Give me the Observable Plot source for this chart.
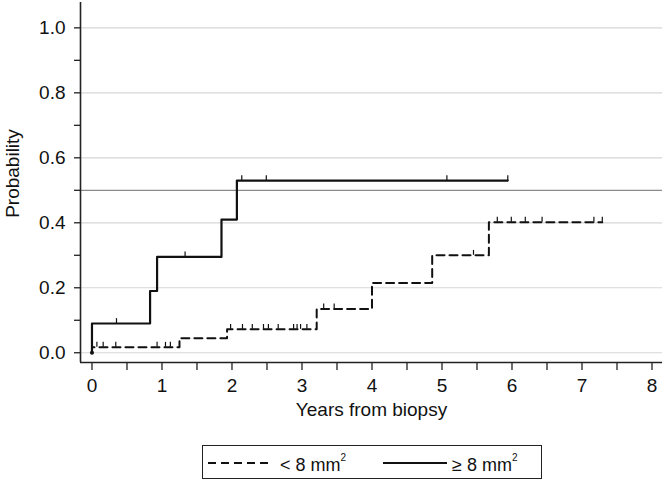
<!DOCTYPE html>
<html>
<head>
<meta charset="utf-8">
<script src="https://cdn.jsdelivr.net/npm/d3@7"></script>
<script src="https://cdn.jsdelivr.net/npm/@observablehq/plot@0.6"></script>
<style>
  html, body { margin: 0; padding: 0; background: #fff; }
  body { width: 664px; font-family: "Liberation Sans", Arial, sans-serif; }
  #legend { position: relative; width: 664px; height: 43px; }
  #legend .box { position: absolute; left: 202px; top: 5px; width: 338px; height: 32px; border: 1.5px solid #222; }
  #legend .lab { position: absolute; top: 11px; font-size: 18px; color: #111; line-height: 20px; white-space: nowrap; }
  #legend sup { font-size: 10px; position: relative; top: -3px; }
</style>
</head>
<body>
<div id="chart"></div>
<div id="legend"></div>
<script>
// ---- data ----
const groups = ["< 8 mm", "≥ 8 mm"];
const smallT = [0, 0, 1.25, 1.93, 3.21, 4.0, 4.86, 5.67, 7.29];
const smallP = [0, 0.017, 0.045, 0.072, 0.135, 0.215, 0.30, 0.402, 0.402];
const largeT = [0, 0, 0.83, 0.93, 1.85, 2.07, 5.94];
const largeP = [0, 0.09, 0.19, 0.295, 0.41, 0.53, 0.53];
const smallCensor = [0.07, 0.16, 0.34, 0.93, 1.05, 1.12, 1.98, 2.15, 2.29, 2.45, 2.52, 2.66, 2.88, 2.93, 2.98, 3.07, 3.31, 3.46, 5.45, 5.79, 5.99, 6.19, 6.43, 7.17, 7.29];
const largeCensor = [0.35, 1.33, 2.14, 2.49, 5.07, 5.94];
const xTicks = [0, 1, 2, 3, 4, 5, 6, 7, 8];
const xMinor = [0.5, 1.5, 2.5, 3.5, 4.5, 5.5, 6.5, 7.5];
const yTicks = [0, 0.2, 0.4, 0.6, 0.8, 1.0];
const yMinor = [0.1, 0.3, 0.5, 0.7, 0.9];
const refLine = [0.5];
const xLabel = "Years from biopsy";
const yLabel = "Probability";

const xDomain = [-0.164, 8.15];
const yDomain = [-0.03, 1.078];

const small = smallT.map((t, i) => ({t, p: smallP[i]}));
const large = largeT.map((t, i) => ({t, p: largeP[i]}));
function stepAt(T, P, t) { let v = P[0]; for (let i = 0; i < T.length; i++) if (T[i] <= t) v = P[i]; return v; }
const censors = [
  ...smallCensor.map(t => ({t, p: stepAt(smallT, smallP, t)})),
  ...largeCensor.map(t => ({t, p: stepAt(largeT, largeP, t)}))
];

const chart = Plot.plot({
  width: 664,
  height: 440,
  marginLeft: 80,
  marginRight: 2,
  marginTop: 2,
  marginBottom: 78,
  style: {fontFamily: "'Liberation Sans', Arial, sans-serif", fontSize: "19px", color: "#111", background: "#fff"},
  x: {domain: xDomain},
  y: {domain: yDomain},
  marks: [
    Plot.ruleY(yTicks, {stroke: "#d6d6d6", strokeWidth: 1.2}),
    Plot.ruleY(refLine, {stroke: "#8a8a8a", strokeWidth: 1.2}),
    Plot.axisY({ticks: yTicks, tickFormat: d3.format(".1f"), tickSize: 6, tickPadding: 9, stroke: "#222", strokeWidth: 1.3, label: null}),
    Plot.axisY({ticks: yMinor, tickFormat: () => "", tickSize: 6, stroke: "#222", strokeWidth: 1.3, label: null}),
    Plot.axisX({ticks: xTicks, tickFormat: d3.format("d"), tickSize: 8, tickPadding: 8, stroke: "#222", strokeWidth: 1.3, label: null}),
    Plot.axisX({ticks: xMinor, tickFormat: () => "", tickSize: 8, stroke: "#222", strokeWidth: 1.3, label: null}),
    Plot.ruleX([xDomain[0]], {stroke: "#222", strokeWidth: 1.6}),
    Plot.ruleY([yDomain[0]], {stroke: "#222", strokeWidth: 1.6}),
    Plot.line(small, {x: "t", y: "p", curve: "step-after", stroke: "#111", strokeWidth: 2, strokeDasharray: "8,5"}),
    Plot.line(large, {x: "t", y: "p", curve: "step-after", stroke: "#111", strokeWidth: 2.2}),
    Plot.ruleX(censors, {x: "t", y1: "p", y2: d => d.p + 0.015, stroke: "#111", strokeWidth: 1.2}),
    Plot.dot([large[0]], {x: "t", y: "p", r: 2, fill: "#111"}),
    Plot.text([xLabel], {frameAnchor: "bottom", dy: 53, fontSize: 19, fill: "#111"}),
    Plot.text([yLabel], {frameAnchor: "left", textAnchor: "middle", dx: -68, dy: -9, rotate: -90, fontSize: 19, fill: "#111"})
  ]
});
document.getElementById("chart").appendChild(chart);

// legend (below the plot)
const lg = document.getElementById("legend");
lg.innerHTML = `
  <div class="box"></div>
  <svg width="664" height="43" style="position:absolute;left:0;top:0">
    <line x1="208" x2="272" y1="23" y2="23" stroke="#111" stroke-width="2" stroke-dasharray="8,5"></line>
    <line x1="383" x2="447" y1="23" y2="23" stroke="#111" stroke-width="2"></line>
  </svg>
  <div class="lab" style="left:280px">${groups[0]}<sup>2</sup></div>
  <div class="lab" style="left:452px">${groups[1]}<sup>2</sup></div>`;
</script>
</body>
</html>
